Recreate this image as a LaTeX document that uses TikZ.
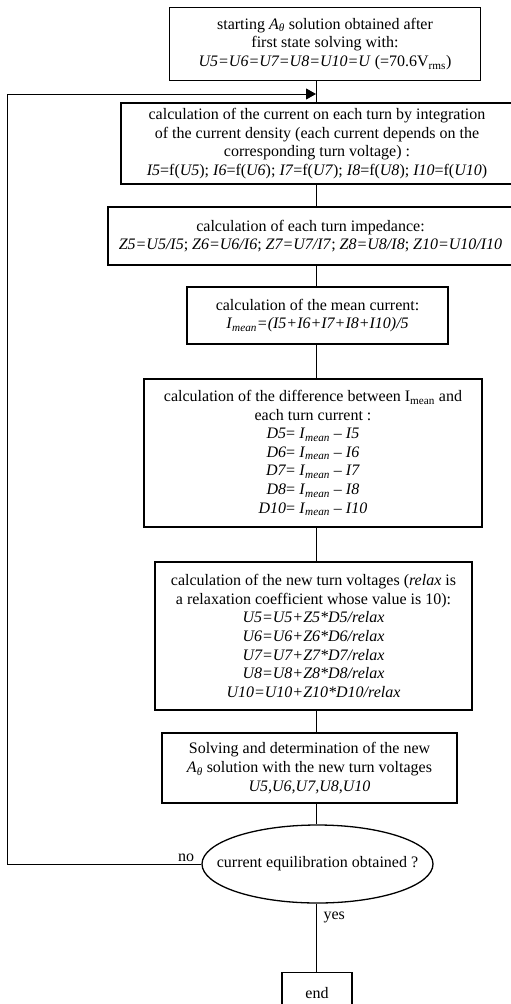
\documentclass[tikz,border=0pt]{standalone}
\usepackage{fontspec}
\setmainfont{Liberation Serif}
\usetikzlibrary{shapes.geometric,arrows.meta,calc}
\begin{document}
\begin{tikzpicture}[x=1pt,y=-1pt,
  txt/.style={font=\fontsize{16}{18.6}\selectfont},
  box/.style={txt,draw,line width=1.3pt,inner sep=0pt,align=center,rectangle},
  decision/.style={txt,draw,line width=1.3pt,ellipse,inner sep=0pt,align=center},
  conn/.style={line width=1pt},
  lbl/.style={txt,inner sep=0pt}]
\useasboundingbox (0,0) rectangle (511,1004);

\node[box,minimum width=311pt,minimum height=73pt] (b1) at (325,44)
 {starting \textit{A}\textsubscript{\textit{θ}} solution obtained after\\
  first state solving with:\\
  \textit{U5=U6=U7=U8=U10=U} (=70.6V\textsubscript{rms})};

\node[box,minimum width=392pt,minimum height=81pt] (b2) at (317,143.5)
 {calculation of the current on each turn by integration\\
  of the current density (each current depends on the\\
  corresponding turn voltage) :\\
  \textit{I5}=f(\textit{U5}); \textit{I6}=f(\textit{U6}); \textit{I7}=f(\textit{U7}); \textit{I8}=f(\textit{U8}); \textit{I10}=f(\textit{U10})};

\node[box,minimum width=405pt,minimum height=58pt] (b3) at (310.5,236)
 {calculation of each turn impedance:\\
  \textit{Z5=U5/I5}; \textit{Z6=U6/I6}; \textit{Z7=U7/I7}; \textit{Z8=U8/I8}; \textit{Z10=U10/I10}};

\node[box,minimum width=261pt,minimum height=57pt] (b4) at (317.5,315.5)
 {calculation of the mean current:\\
  \textit{I}\textsubscript{\textit{mean}}\textit{=(I5+I6+I7+I8+I10)/5}};

\node[box,minimum width=338pt,minimum height=148pt] (b5) at (313,453)
 {calculation of the difference between I\textsubscript{mean} and\\
  each turn current :\\
  \textit{D5}= \textit{I}\textsubscript{\textit{mean}} – \textit{I5}\\
  \textit{D6}= \textit{I}\textsubscript{\textit{mean}} – \textit{I6}\\
  \textit{D7}= \textit{I}\textsubscript{\textit{mean}} – \textit{I7}\\
  \textit{D8}= \textit{I}\textsubscript{\textit{mean}} – \textit{I8}\\
  \textit{D10}= \textit{I}\textsubscript{\textit{mean}} – \textit{I10}};

\node[box,minimum width=317pt,minimum height=148pt] (b6) at (313.5,636)
 {calculation of the new turn voltages (\textit{relax} is\\
  a relaxation coefficient whose value is 10):\\
  \textit{U5=U5+Z5*D5/relax}\\
  \textit{U6=U6+Z6*D6/relax}\\
  \textit{U7=U7+Z7*D7/relax}\\
  \textit{U8=U8+Z8*D8/relax}\\
  \textit{U10=U10+Z10*D10/relax}};

\node[box,minimum width=295pt,minimum height=70pt] (b7) at (309.5,768)
 {Solving and determination of the new\\
  \textit{A}\textsubscript{\textit{θ}} solution with the new turn voltages\\
  \textit{U5,U6,U7,U8,U10}};

\node[decision,minimum width=231pt,minimum height=78pt] (dec) at (317.5,864)
 {\makebox[0pt]{current equilibration obtained ?}};

\node[box,minimum width=70pt,minimum height=40pt,anchor=north] (fin) at (317,972) {end};

\coordinate (spine) at (316,0);
\coordinate (loopTop) at (7,94);

\draw[conn] (b1.south -| spine) -- (b2.north -| spine);
\draw[conn] (b2.south -| spine) -- (b3.north -| spine);
\draw[conn] (b3.south -| spine) -- (b4.north -| spine);
\draw[conn] (b4.south -| spine) -- (b5.north -| spine);
\draw[conn] (b5.south -| spine) -- (b6.north -| spine);
\draw[conn] (b6.south -| spine) -- (b7.north -| spine);
\draw[conn] (b7.south -| spine) -- (dec.north -| spine);
\draw[conn] (dec.south -| spine) -- (fin.north -| spine)
  node[lbl,pos=0.2,right=7pt] (yes) {yes};
\draw[conn,-{Triangle[length=10pt,width=11pt]}] (dec.west) -- (dec.west -| loopTop)
  -- (loopTop) -- (spine |- loopTop);
\node[lbl,anchor=south east] (no) at ($(dec.west)+(-7,-2)$) {no};
\end{tikzpicture}
\end{document}
